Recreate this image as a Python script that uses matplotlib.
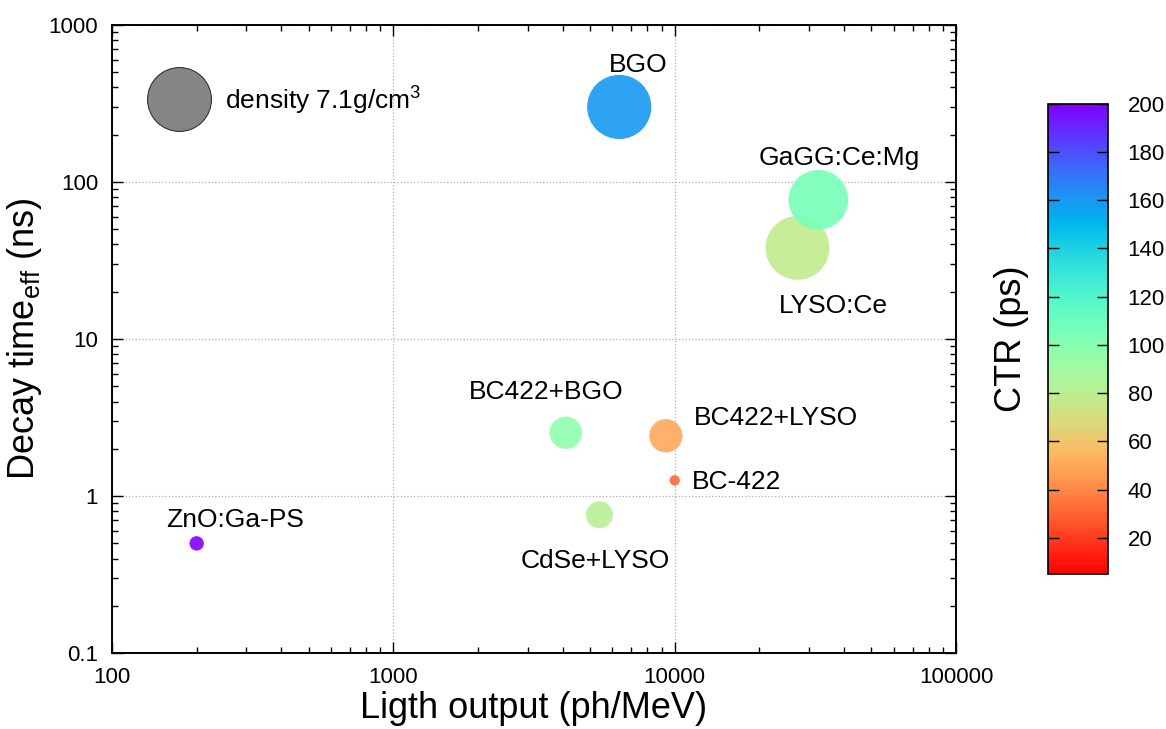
import matplotlib.pyplot as plt
from matplotlib.colors import Normalize
from matplotlib.cm import ScalarMappable
from matplotlib.ticker import LogLocator, NullFormatter

plt.rcParams['font.family'] = ['Liberation Sans', 'DejaVu Sans']
plt.rcParams['mathtext.fontset'] = 'custom'
plt.rcParams['mathtext.rm'] = 'Liberation Sans'

# scintillator data (LYSO drawn before GaGG so GaGG sits on top)
names = ['BGO', 'LYSO:Ce', 'GaGG:Ce:Mg', 'BC422+BGO', 'BC422+LYSO', 'BC-422', 'CdSe+LYSO', 'ZnO:Ga-PS']
light_output = [6350, 27300, 32400, 4100, 9300, 10000, 5400, 200]   # ph/MeV
decay_time = [300, 38, 77, 2.53, 2.42, 1.26, 0.76, 0.5]             # ns
ctr = [160, 78, 106, 97, 50, 32, 81, 200]                          # ps
density = [7.13, 7.1, 6.63, 3.6, 3.7, 1.15, 3.0, 1.6]              # g/cm3

# reference bubble
legend_x, legend_y, legend_density = 173, 338, 7.1

xticks = [100, 1000, 10000, 100000]
xtick_labels = ['100', '1000', '10000', '100000']
yticks = [0.1, 1, 10, 100, 1000]
ytick_labels = ['0.1', '1', '10', '100', '1000']
cbar_ticks = [20, 40, 60, 80, 100, 120, 140, 160, 180, 200]

# label offsets in points (dx, dy, ha)
label_pos = {
    'BGO': (14, 25, 'center'),
    'LYSO:Ce': (26, -47, 'center'),
    'GaGG:Ce:Mg': (15, 25, 'center'),
    'BC422+BGO': (-14, 24, 'center'),
    'BC422+LYSO': (20, 8, 'left'),
    'BC-422': (12, -6, 'left'),
    'CdSe+LYSO': (-3, -38, 'center'),
    'ZnO:Ga-PS': (28, 12, 'center'),
}


def bubble_size(d):
    r_px = 4.5 * d
    return (2 * r_px * 0.72) ** 2


fig = plt.figure(figsize=(11.66, 7.29), dpi=100)
ax = fig.add_axes([0.096, 0.104, 0.724, 0.862])

norm = Normalize(vmin=5, vmax=200)
cmap = plt.get_cmap('rainbow_r')

ax.scatter(light_output, decay_time, s=[bubble_size(d) for d in density],
           c=ctr, cmap=cmap, norm=norm, alpha=0.9, linewidths=0, zorder=3)

for name, x, y in zip(names, light_output, decay_time):
    dx, dy, ha = label_pos[name]
    ax.annotate(name, (x, y), xytext=(dx, dy), textcoords='offset points',
                ha=ha, va='baseline', fontsize=19)

ax.scatter([legend_x], [legend_y], s=bubble_size(legend_density), color='#858585',
           edgecolors='#222222', linewidths=0.7, zorder=3)
ax.annotate('density 7.1g/cm$^3$', (legend_x, legend_y), xytext=(33, -7),
            textcoords='offset points', ha='left', va='baseline', fontsize=19)

ax.set_xscale('log')
ax.set_yscale('log')
ax.set_xlim(100, 100000)
ax.set_ylim(0.1, 1000)
ax.set_xticks(xticks)
ax.set_xticklabels(xtick_labels)
ax.set_yticks(yticks)
ax.set_yticklabels(ytick_labels)
ax.xaxis.set_minor_locator(LogLocator(base=10, subs=range(2, 10)))
ax.yaxis.set_minor_locator(LogLocator(base=10, subs=range(2, 10)))
ax.xaxis.set_minor_formatter(NullFormatter())
ax.yaxis.set_minor_formatter(NullFormatter())
ax.tick_params(which='both', direction='in', top=True, right=True, labelsize=16, width=1)
ax.tick_params(which='major', length=8, pad=10)
ax.tick_params(which='minor', length=4)
for sp in ax.spines.values():
    sp.set_linewidth(1.4)

ax.grid(which='major', linestyle=':', color='#b0b0b0', linewidth=0.9)
ax.set_axisbelow(True)

ax.set_xlabel('Ligth output (ph/MeV)', fontsize=26, labelpad=2)
ax.set_ylabel('Decay time$_{\\mathregular{eff}}$ (ns)', fontsize=26, labelpad=3)

cax = fig.add_axes([0.899, 0.2126, 0.0515, 0.645])
sm = ScalarMappable(norm=norm, cmap=cmap)
cb = fig.colorbar(sm, cax=cax, ticks=cbar_ticks)
cb.outline.set_linewidth(1.2)
cax.tick_params(direction='in', left=True, right=True, length=8, width=1, labelsize=16, pad=14)
cb.set_label('CTR (ps)', fontsize=26, labelpad=14)
cax.yaxis.set_label_position('left')

fig.savefig('out.png', dpi=100)
